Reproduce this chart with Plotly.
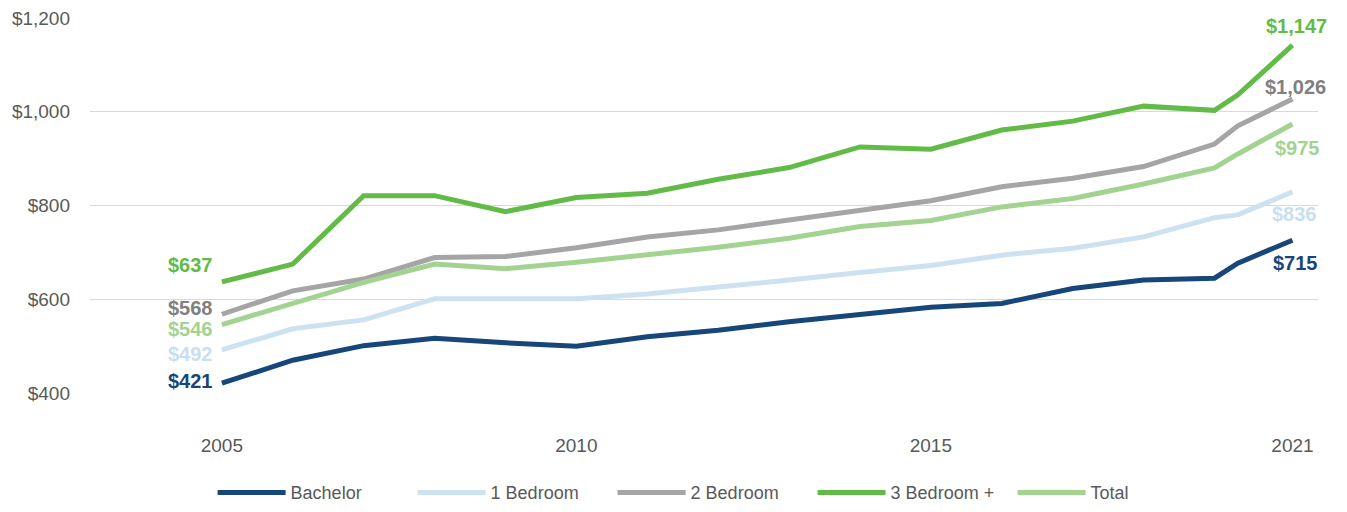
import plotly.graph_objects as go

# x positions of the survey points (last two are unevenly spaced in the source)
x_pos = [2005, 2006, 2007, 2008, 2009, 2010, 2011, 2012, 2013, 2014,
         2015, 2016, 2017, 2018, 2019, 2019.33, 2020.1]
tick_vals = [2005, 2010, 2015, 2020.1]
tick_text = ["2005", "2010", "2015", "2021"]
y_ticks = [400, 600, 800, 1000, 1200]

bachelor = [421, 470, 501, 517, 507, 500, 520, 534, 552, 568, 583, 591, 623, 641, 645, 677, 726]
one_bed = [492, 537, 556, 601, 601, 601, 611, 625, 641, 657, 672, 694, 709, 733, 774, 780, 829]
two_bed = [568, 618, 643, 689, 691, 710, 733, 748, 769, 790, 810, 840, 858, 883, 931, 970, 1027]
three_bed = [637, 675, 821, 821, 787, 817, 826, 856, 881, 925, 920, 961, 980, 1012, 1003, 1036, 1142]
total = [546, 591, 636, 675, 665, 679, 694, 711, 730, 755, 768, 797, 815, 846, 880, 910, 974]

names = ["Bachelor", "1 Bedroom", "2 Bedroom", "3 Bedroom +", "Total"]
start_labels = ["$421", "$492", "$568", "$637", "$546"]
end_labels = ["$715", "$836", "$1,026", "$1,147", "$975"]

line_colors = ["#16467A", "#CCE2F1", "#A5A5A5", "#62BB46", "#A2D390"]
label_colors = ["#16467A", "#C9DFEF", "#808080", "#62BB46", "#A2D390"]

series = [bachelor, one_bed, two_bed, three_bed, total]

fig = go.Figure()
for name, ys, col in zip(names, series, line_colors):
    fig.add_trace(go.Scatter(x=x_pos, y=ys, mode="lines", name=name,
                             line=dict(color=col, width=5)))

# label offsets (px) for start / end value labels
start_shift = [2, -4, 6, 17, -4]
end_cfg = [("right", 28, -23), ("right", 27, -22), ("center", 3, 12),
           ("center", 4, 19), ("right", 30, -24)]

for i, ys in enumerate(series):
    fig.add_annotation(x=x_pos[0], y=ys[0], text=f"<b>{start_labels[i]}</b>", showarrow=False,
                       xanchor="right", yanchor="middle", xshift=-7, yshift=start_shift[i],
                       font=dict(size=20, color=label_colors[i], family="Liberation Sans"))
    anc, xs, ysh = end_cfg[i]
    fig.add_annotation(x=x_pos[-1], y=ys[-1], text=f"<b>{end_labels[i]}</b>", showarrow=False,
                       xanchor=anc, yanchor="middle", xshift=xs, yshift=ysh,
                       font=dict(size=20, color=label_colors[i], family="Liberation Sans"))

# page body adds 8px around the figure, so size and margins are trimmed to suit
fig.update_layout(
    width=1331, height=496,
    font=dict(family="Liberation Sans", color="#595959", size=19),
    plot_bgcolor="white", paper_bgcolor="white",
    margin=dict(l=82, r=21, t=10, b=111, autoexpand=False),
    xaxis=dict(range=[2003.14, 2020.46], tickvals=tick_vals, ticktext=tick_text,
               showgrid=False, zeroline=False, showline=False, ticks="",
               ticklabelstandoff=39, tickfont=dict(size=19, color="#595959")),
    yaxis=dict(range=[400, 1200], tickvals=y_ticks,
               ticktext=[f"${v:,}" for v in y_ticks], showgrid=True, gridcolor="#D9D9D9",
               gridwidth=1, zeroline=False, showline=False, ticks="",
               ticklabeloverflow="allow",
               ticklabelstandoff=19, tickfont=dict(size=19, color="#595959")),
    legend=dict(orientation="h", x=0.507, xanchor="center", y=-0.266, yanchor="middle",
                font=dict(size=18, color="#595959"), itemwidth=68,
                entrywidth=117, traceorder="normal"),
)

fig.write_html("out.html")
